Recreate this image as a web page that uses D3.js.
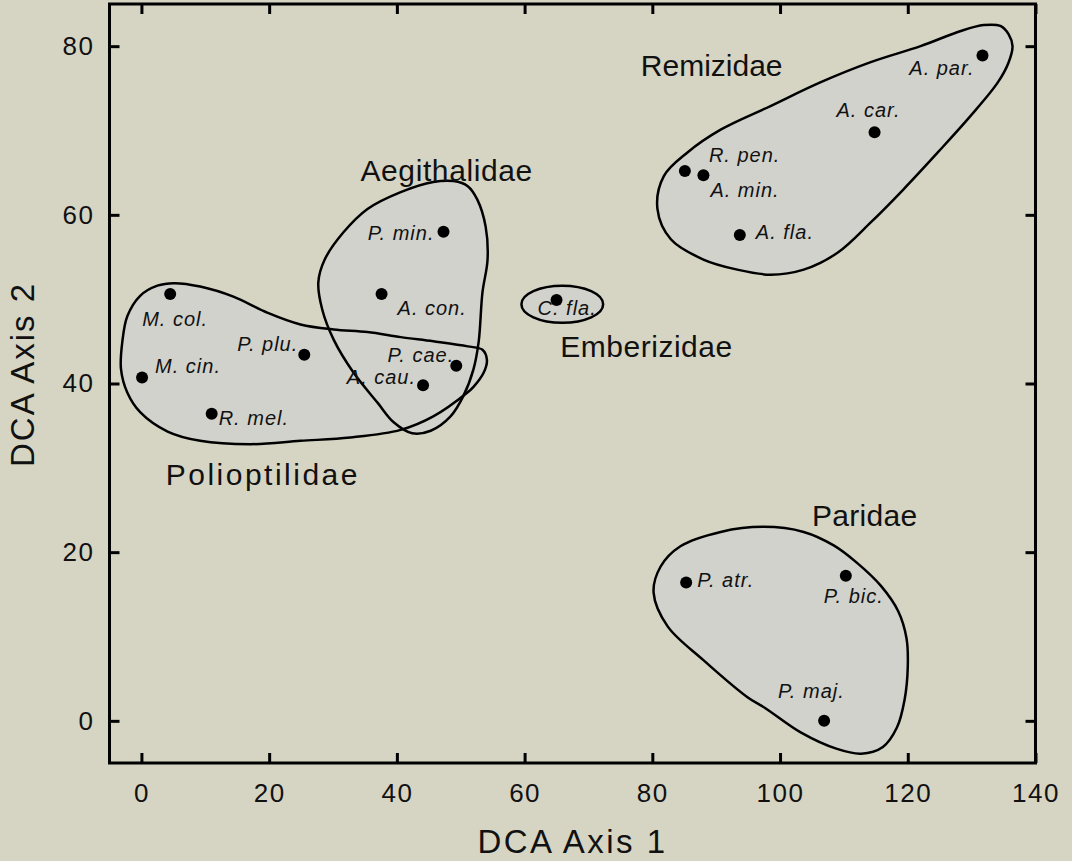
<!DOCTYPE html>
<html>
<head>
<meta charset="utf-8">
<script src="https://cdn.jsdelivr.net/npm/d3@7"></script>
<style>
  html, body { margin: 0; padding: 0; background: #d6d5c4; }
  svg { display: block; }
  text { font-family: "Liberation Sans", Arial, sans-serif; fill: #111; }
</style>
</head>
<body>
<svg id="chart" width="1072" height="861"></svg>
<script>
// ---- data ----
const species = ["M. col.", "M. cin.", "R. mel.", "P. plu.", "A. con.", "P. cae.", "A. cau.", "P. min.",
                 "C. fla.", "R. pen.", "A. min.", "A. fla.", "A. car.", "A. par.", "P. atr.", "P. bic.", "P. maj."];
const axis1 = [4.5, 0.1, 11.0, 25.5, 37.6, 49.3, 44.1, 47.3, 65.0, 85.1, 88.0, 93.7, 114.8, 131.7, 85.3, 110.3, 106.9];
const axis2 = [50.6, 40.7, 36.4, 43.4, 50.6, 42.1, 39.8, 58.0, 49.9, 65.2, 64.7, 57.6, 69.8, 78.9, 16.4, 17.2, 0.0];

const xTicks = [0, 20, 40, 60, 80, 100, 120, 140];
const yTicks = [0, 20, 40, 60, 80];

const families = ["Polioptilidae", "Aegithalidae", "Remizidae", "Paridae", "Emberizidae"];
const familyLabelX = [3.8, 34.3, 78.2, 105.0, 65.6];
const familyLabelY = [28.0, 64.0, 76.5, 23.1, 43.2];

// hull outlines (data units)
const hullPolioptilidae = [[-3.2,41.7],[-3.0,44.9],[-2.2,48.0],[-0.2,50.4],[2.5,51.6],[5.1,51.9],[9.2,51.5],[14.4,50.3],
  [19.7,48.4],[24.9,47.0],[30.1,46.4],[35.4,46.1],[40.6,45.5],[45.7,45.0],[51.1,44.4],[53.4,44.0],[54.1,42.8],[53.6,41.3],
  [52.0,39.6],[51.0,38.9],[45.7,36.1],[40.6,34.5],[32.7,33.6],[24.9,33.2],[17.1,32.8],[9.2,33.2],[4.1,34.3],[-0.2,36.6],[-2.2,38.9]];
const hullAegithalidae = [[48.9,64.0],[51.1,63.4],[52.6,61.8],[53.9,58.6],[54.2,54.7],[53.4,50.8],[52.8,44.9],[52.0,41.7],
  [50.4,38.5],[48.4,36.1],[45.3,34.4],[42.4,34.1],[39.5,35.4],[37.0,37.7],[33.2,41.3],[30.1,45.2],[28.3,48.8],[27.7,52.0],
  [28.7,54.7],[31.6,57.9],[35.4,60.7],[40.6,62.7],[45.7,63.9]];
const hullRemizidae = [[131.9,82.5],[134.5,82.4],[135.8,81.4],[136.4,80.0],[135.8,78.1],[134.1,75.7],[129.8,71.7],[124.7,67.4],
  [119.3,63.0],[114.2,59.1],[109.0,55.5],[103.7,53.5],[98.5,52.9],[93.3,53.5],[88.0,54.7],[82.9,57.1],[80.8,60.7],[81.8,64.6],
  [85.5,67.4],[90.7,70.1],[98.5,72.9],[106.3,75.7],[114.2,78.1],[122.0,80.0],[128.3,81.8]];
const hullParidae = [[97.4,23.0],[103.7,22.4],[108.4,20.8],[112.1,18.7],[115.8,16.0],[118.5,13.0],[119.8,9.8],[120.0,6.4],
  [119.5,2.5],[118.3,-0.8],[116.1,-3.1],[112.7,-3.9],[108.8,-3.3],[103.3,-1.4],[97.7,1.5],[94.9,2.8],[88.0,7.2],[82.4,11.2],
  [80.2,15.2],[81.3,18.3],[84.4,20.7],[90.7,22.4]];
// Emberizidae ellipse: centre and radii in data units
const emberizidaeEllipse = [65.9, 49.4, 6.4, 2.2];

// ---- layout (label offsets in px, anchor) ----
const labelLayout = [
  [-28, 32, "start"], [13, -5, "start"], [7, 11, "start"], [-6, -4, "end"], [16, 21, "start"],
  [-2, -4, "end"], [-7, -1, "end"], [-9, 8, "end"], [-19, 15, "start"], [24, -9, "start"],
  [7, 22, "start"], [16, 4, "start"], [-6, -15, "middle"], [-8, 20, "end"], [11, 4, "start"],
  [-22, 27, "start"], [-46, -23, "start"]
];
const familyLetterSpacing = [2.5, 0.6, 0, 0.3, 0.5];

const svg = d3.select("#chart");
const L = 109.5, R = 1035.5, T = 4, B = 763;
const x = d3.scaleLinear().domain([-5, 140]).range([L, R]);
const y = d3.scaleLinear().domain([-5, 85]).range([B, T]);

const hullFill = "#d2d2cc";
const line = d3.line().x(d => x(d[0])).y(d => y(d[1])).curve(d3.curveCatmullRomClosed.alpha(0.5));
const hulls = [hullPolioptilidae, hullAegithalidae, hullRemizidae, hullParidae];

// fills first
const g = svg.append("g");
g.selectAll("path.fill").data(hulls).join("path")
  .attr("d", line).attr("fill", hullFill).attr("stroke", "none");
g.append("ellipse")
  .attr("cx", x(emberizidaeEllipse[0])).attr("cy", y(emberizidaeEllipse[1]))
  .attr("rx", x(emberizidaeEllipse[2]) - x(0)).attr("ry", y(0) - y(emberizidaeEllipse[3]))
  .attr("fill", hullFill).attr("stroke", "#000").attr("stroke-width", 2.5);
// outlines
g.selectAll("path.line").data(hulls).join("path").attr("class", "line")
  .attr("d", line).attr("fill", "none").attr("stroke", "#000").attr("stroke-width", 2.5);

// axes
const xAxisB = d3.axisBottom(x).tickValues(xTicks).tickSizeInner(-10).tickSizeOuter(0).tickPadding(21);
const xAxisT = d3.axisTop(x).tickValues(xTicks).tickSizeInner(-10).tickSizeOuter(0).tickFormat("");
const yAxisL = d3.axisLeft(y).tickValues(yTicks).tickSizeInner(-10).tickSizeOuter(0).tickPadding(15);
const yAxisR = d3.axisRight(y).tickValues(yTicks).tickSizeInner(-10).tickSizeOuter(0).tickFormat("");

function style(sel) {
  sel.select(".domain").remove();
  sel.selectAll(".tick line").attr("stroke", "#000").attr("stroke-width", 3);
  sel.selectAll(".tick text").attr("fill", "#111").style("font-size", "26px")
     .style("letter-spacing", "1.5px").style("font-family", '"Liberation Sans", Arial, sans-serif');
}
svg.append("g").attr("transform", `translate(0,${B})`).call(xAxisB).call(style);
svg.append("g").attr("transform", `translate(0,${T})`).call(xAxisT).call(style);
svg.append("g").attr("transform", `translate(${L},0)`).call(yAxisL).call(style);
svg.append("g").attr("transform", `translate(${R},0)`).call(yAxisR).call(style);

svg.append("rect").attr("x", L).attr("y", T).attr("width", R - L).attr("height", B - T)
  .attr("fill", "none").attr("stroke", "#000").attr("stroke-width", 3);

// points
svg.append("g").selectAll("circle").data(species).join("circle")
  .attr("cx", (d, i) => x(axis1[i])).attr("cy", (d, i) => y(axis2[i])).attr("r", 6).attr("fill", "#000");

// species labels
svg.append("g").selectAll("text").data(species).join("text")
  .attr("x", (d, i) => x(axis1[i]) + labelLayout[i][0])
  .attr("y", (d, i) => y(axis2[i]) + labelLayout[i][1])
  .attr("text-anchor", (d, i) => labelLayout[i][2])
  .style("font-size", "20px").style("font-style", "italic").style("letter-spacing", "1px")
  .text(d => d);

// family labels
svg.append("g").selectAll("text").data(families).join("text")
  .attr("x", (d, i) => x(familyLabelX[i])).attr("y", (d, i) => y(familyLabelY[i]))
  .style("font-size", "30px").style("letter-spacing", (d, i) => familyLetterSpacing[i] + "px")
  .text(d => d);

// axis titles
svg.append("text").attr("x", (L + R) / 2).attr("y", 853).attr("text-anchor", "middle")
  .style("font-size", "33px").style("letter-spacing", "2.5px").text("DCA Axis 1");
svg.append("text").attr("transform", `translate(34,${(T + B) / 2 - 9}) rotate(-90)`).attr("text-anchor", "middle")
  .style("font-size", "33px").style("letter-spacing", "2px").text("DCA Axis 2");
</script>
</body>
</html>
